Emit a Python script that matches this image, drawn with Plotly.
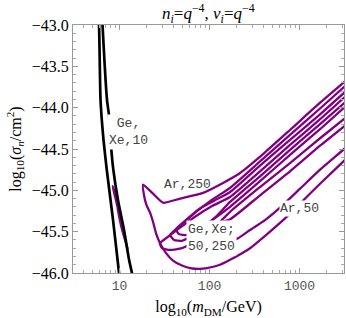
import numpy as np
import plotly.graph_objects as go

# ---- data: x = log10(m_DM/GeV), y = log10(sigma_n/cm^2) ----
black_a_x = [0.761, 0.772, 0.789, 0.822, 0.858, 0.928, 0.978, 1.006]
black_a_y = [-42.88, -43.00, -43.91, -44.39, -44.75, -45.36, -45.84, -46.11]
black_b_x = [0.806, 0.811, 0.861, 0.883, 0.906, 0.931, 0.983, 1.050, 1.106, 1.161]
black_b_y = [-42.88, -43.00, -43.91, -44.09, -44.47, -44.75, -45.12, -45.48, -45.84, -46.11]

loop10_x = [0.924, 0.956, 0.983, 1.022, 1.061, 1.087, 1.072, 1.028, 0.989, 0.956, 0.933, 0.924]
loop10_y = [-44.95, -45.06, -45.24, -45.45, -45.60, -45.70, -45.64, -45.45, -45.26, -45.10, -44.995, -44.95]

ar250_x = [3.561, 3.228, 2.894, 2.617, 2.339, 2.150, 1.928, 1.672, 1.483, 1.372, 1.261,
           1.272, 1.300, 1.339, 1.372, 1.406, 1.450, 1.517, 1.594, 1.694, 1.783, 1.894,
           1.972, 2.117, 2.228, 2.361, 2.450, 2.617, 2.817, 3.006, 3.228, 3.506, 3.617]
ar250_y = [-43.63, -43.94, -44.27, -44.54, -44.79, -44.91, -45.03, -45.10, -45.15, -45.04, -44.93,
           -45.06, -45.18, -45.27, -45.38, -45.52, -45.64, -45.76, -45.85, -45.91, -45.94, -45.95,
           -45.94, -45.90, -45.84, -45.76, -45.70, -45.55, -45.36, -45.16, -44.92, -44.63, -44.51]

ar50_x = [3.617, 3.506, 3.228, 3.006, 2.783, 2.617, 2.450, 2.317, 2.172, 2.006, 1.872, 1.783, 1.761,
          1.839, 2.006, 2.228, 2.561, 2.894, 3.228, 3.617]
ar50_y = [-44.38, -44.49, -44.75, -44.98, -45.21, -45.36, -45.48, -45.58, -45.64, -45.66, -45.65, -45.61, -45.56,
          -45.52, -45.43, -45.35, -45.06, -44.77, -44.46, -44.12]

gx1_x = [3.617, 3.228, 2.894, 2.561, 2.228, 2.006, 1.839, 1.672, 1.561,
         1.606, 1.694, 1.806, 1.950, 2.061, 2.228, 2.561, 2.894, 3.228, 3.617]
gx1_y = [-43.63, -44.01, -44.33, -44.65, -44.97, -45.13, -45.27, -45.43, -45.54,
         -45.60, -45.61, -45.55, -45.43, -45.33, -45.14, -44.83, -44.51, -44.20, -43.83]

gx2_x = [3.617, 3.228, 2.894, 2.561, 2.228, 2.061, 1.894, 1.728, 1.628,
         1.661, 1.750, 1.861, 2.028, 2.228, 2.561, 2.894, 3.228, 3.617]
gx2_y = [-43.70, -44.08, -44.39, -44.70, -45.02, -45.12, -45.22, -45.37, -45.47,
         -45.53, -45.54, -45.48, -45.36, -45.20, -44.89, -44.57, -44.26, -43.88]

gx3_x = [3.617, 3.228, 2.894, 2.561, 2.228, 2.028, 1.839, 1.650, 1.517, 1.450,
         1.472, 1.561, 1.694, 1.839, 2.006, 2.228, 2.561, 2.894, 3.228, 3.617]
gx3_y = [-43.76, -44.14, -44.45, -44.77, -45.08, -45.19, -45.32, -45.47, -45.58, -45.64,
         -45.70, -45.72, -45.70, -45.62, -45.50, -45.26, -44.96, -44.67, -44.37, -44.03]

x_tick_vals = [1, 2, 3]
x_tick_text = ["10", "100", "1000"]
y_tick_vals = [-46.0, -45.5, -45.0, -44.5, -44.0, -43.5, -43.0]
y_tick_text = ["\u221246.0", "\u221245.5", "\u221245.0", "\u221244.5", "\u221244.0", "\u221243.5", "\u221243.0"]

PURPLE = "#800080"

fig = go.Figure()
for xs, ys in [(gx1_x, gx1_y), (gx2_x, gx2_y), (gx3_x, gx3_y), (ar50_x, ar50_y),
               (ar250_x, ar250_y), (loop10_x, loop10_y)]:
    fig.add_trace(go.Scatter(x=xs, y=ys, mode="lines",
                             line=dict(color=PURPLE, width=2.3, shape="spline", smoothing=0.5),
                             hoverinfo="skip", showlegend=False))
for xs, ys in [(black_a_x, black_a_y), (black_b_x, black_b_y)]:
    fig.add_trace(go.Scatter(x=xs, y=ys, mode="lines",
                             line=dict(color="black", width=2.7, shape="spline", smoothing=0.5),
                             hoverinfo="skip", showlegend=False))

minor_x = [np.log10(k * 10 ** d) for d in range(0, 4) for k in range(2, 10)]
minor_x = [v for v in minor_x if 0.48 < v < 3.5]

fig.update_layout(
    width=346, height=318,
    margin=dict(l=73, r=2, t=25, b=45),
    paper_bgcolor="white", plot_bgcolor="white",
    xaxis=dict(range=[0.483, 3.494], showgrid=False, zeroline=False,
               tickmode="array", tickvals=x_tick_vals, ticktext=x_tick_text,
               ticks="inside", ticklen=5, tickcolor="#999", showline=True, linecolor="#999",
               linewidth=1, mirror="ticks",
               tickfont=dict(family="Liberation Mono", size=13, color="#555"),
               minor=dict(tickmode="array", tickvals=minor_x, ticks="inside", ticklen=3, tickcolor="#aaa"),
               title=dict(text="log<sub>10</sub>(<i>m</i><sub>DM</sub>/GeV)", standoff=8,
                          font=dict(family="Liberation Serif", size=16, color="black"))),
    yaxis=dict(range=[-46.0, -43.0], showgrid=False, zeroline=False,
               tickmode="array", tickvals=y_tick_vals, ticktext=y_tick_text,
               ticks="inside", ticklen=5, tickcolor="#999", showline=True, linecolor="#999",
               linewidth=1, mirror="ticks",
               tickfont=dict(family="Liberation Serif", size=16, color="black"),
               minor=dict(dtick=0.1, ticks="inside", ticklen=3, tickcolor="#aaa"),
               title=dict(text="log<sub>10</sub>(<i>\u03c3</i><sub><i>n</i></sub>/cm<sup>2</sup>)", standoff=6,
                          font=dict(family="Liberation Serif", size=16, color="black"))),
)

# chart title as a centred paper annotation
fig.add_annotation(xref="paper", yref="paper", x=0.5, y=1.0, yshift=12, xanchor="center", yanchor="middle",
                   text="<i>n</i><sub><i>i</i></sub>=<i>q</i><sup>\u22124</sup>, <i>\u03bd</i><sub><i>i</i></sub>=<i>q</i><sup>\u22124</sup>",
                   showarrow=False, font=dict(family="Liberation Serif", size=17, color="black"))

mono = dict(family="Liberation Mono", size=13, color="#444")
fig.add_annotation(x=1.1, y=-44.30, text="Ge,<br>Xe,10", showarrow=False, font=mono,
                   bgcolor="white", borderpad=1, align="center")
fig.add_annotation(x=1.75, y=-44.93, text="Ar,250", showarrow=False, font=mono)
fig.add_annotation(x=3.0, y=-45.22, text="Ar,50", showarrow=False, font=mono,
                   bgcolor="white", borderpad=0)
fig.add_annotation(x=1.74, y=-45.58, text="Ge,Xe;<br>50,250", showarrow=False, font=mono,
                   bgcolor="white", borderpad=1, align="left", xanchor="left")

fig.write_html("out.html", config={"displayModeBar": False},
               post_script="document.body.style.margin='0';document.body.style.overflow='hidden';")
